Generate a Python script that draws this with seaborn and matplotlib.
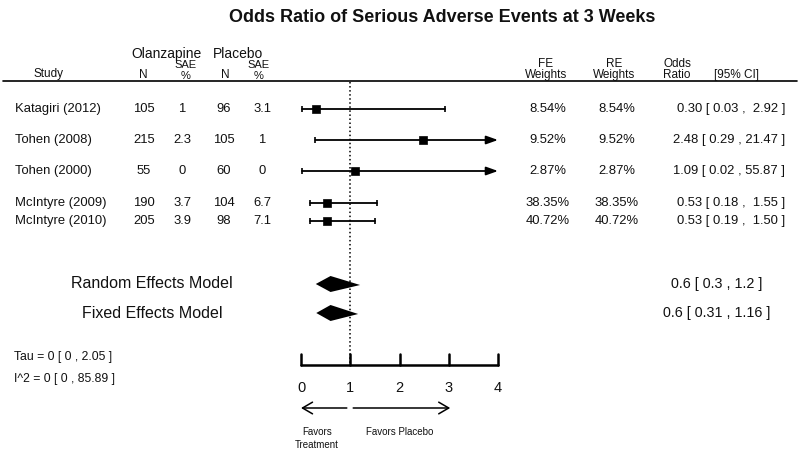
# %%

import numpy as np
import pandas as pd
import matplotlib.pyplot as plt
import matplotlib.transforms as mtransforms
import seaborn as sns

# %%

studies = ['Katagiri (2012)', 'Tohen (2008)', 'Tohen (2000)',
           'McIntyre (2009)', 'McIntyre (2010)']
olz_n = [105, 215, 55, 190, 205]
olz_sae = ['1', '2.3', '0', '3.7', '3.9']
plc_n = [96, 105, 60, 104, 98]
plc_sae = ['3.1', '1', '0', '6.7', '7.1']
fe_weights = [8.54, 9.52, 2.87, 38.35, 40.72]
re_weights = [8.54, 9.52, 2.87, 38.35, 40.72]
odds = [0.30, 2.48, 1.09, 0.53, 0.53]
ci_lo = [0.03, 0.29, 0.02, 0.18, 0.19]
ci_hi = [2.92, 21.47, 55.87, 1.55, 1.50]

models = ['Random Effects Model', 'Fixed Effects Model']
model_or = [0.6, 0.6]
model_lo = [0.3, 0.31]
model_hi = [1.2, 1.16]

tau = [0, 0, 2.05]
i2 = [0, 0, 85.89]
ticks = [0, 1, 2, 3, 4]

# %%

sns.set_theme(style='white')
plt.rcParams['font.family'] = ['Liberation Sans', 'DejaVu Sans']

W, H = 800, 454
x0_px, unit_px = 301, 49.25          # pixel of OR=0 and pixels per OR unit
row_y = [109, 140, 171, 203, 221]
model_y = [284, 313]
axis_y = 365
xmax = ticks[-1]

fig = plt.figure(figsize=(8, 4.54), dpi=100)
ax = fig.add_axes([0, 0, 1, 1])
ax.set_xlim(-x0_px / unit_px, (W - x0_px) / unit_px)
ax.set_ylim(H, 0)
ax.axis('off')

# pixel transform for table text
px = mtransforms.Affine2D().scale(1 / W, -1 / H).translate(0, 1) + fig.transFigure


def txt(x, y, s, size=9.4, ha='center', **kw):
    fig.text(x, y, s, transform=px, fontsize=size, ha=ha, va='center',
             color='#111111', **kw)


# %%  studies

df = pd.DataFrame({'study': studies, 'odds': odds, 'lo': ci_lo,
                   'hi': ci_hi, 'y': row_y})

for _, r in df.iterrows():
    if r['hi'] > xmax:
        ax.annotate('', xy=(xmax, r['y']), xytext=(r['lo'], r['y']),
                    arrowprops=dict(arrowstyle='-|>,head_length=0.7,head_width=0.25',
                                    mutation_scale=10, lw=1.3, color='black',
                                    shrinkA=0, shrinkB=0))
        ax.plot([r['lo']], [r['y']], marker='|', ms=5, mew=1.2, color='black')
    else:
        ax.plot([r['lo'], r['hi']], [r['y'], r['y']], color='black', lw=1.3,
                marker='|', ms=5, mew=1.2)

sns.scatterplot(data=df, x='odds', y='y', marker='s', s=36, color='black',
                edgecolor='black', legend=False, ax=ax, zorder=5)

# model diamonds
for est, lo, hi, y in zip(model_or, model_lo, model_hi, model_y):
    ax.fill([lo, est, hi, est], [y, y - 8, y + 1, y + 8], color='black', lw=0)

# reference line and axis
ax.plot([1, 1], [82, axis_y], ls=':', color='black', lw=1.1)
ax.plot([ticks[0], ticks[-1]], [axis_y, axis_y], color='black', lw=1.8)
for t in ticks:
    ax.plot([t, t], [axis_y, axis_y - 11], color='black', lw=1.8)
    ax.text(t, 388, str(t), ha='center', va='center', fontsize=10.5,
            color='#111111')

ax.annotate('', xy=(0, 408), xytext=(0.93, 408),
            arrowprops=dict(arrowstyle='->,head_length=0.6,head_width=0.35',
                            mutation_scale=12, lw=1.1, color='black',
                            shrinkA=0, shrinkB=0))
ax.annotate('', xy=(3.03, 408), xytext=(1.06, 408),
            arrowprops=dict(arrowstyle='->,head_length=0.6,head_width=0.35',
                            mutation_scale=12, lw=1.1, color='black',
                            shrinkA=0, shrinkB=0))
txt(317, 432, 'Favors', size=7)
txt(317, 445, 'Treatment', size=7)
txt(400, 432, 'Favors Placebo', size=7)

# %%  table text

fig.text(442, 17, 'Odds Ratio of Serious Adverse Events at 3 Weeks',
         transform=px, fontsize=13, fontweight='bold', ha='center',
         va='center', color='#111111')

txt(166, 54, 'Olanzapine', size=10)
txt(238, 54, 'Placebo', size=10)
txt(48, 74, 'Study', size=8.5)
txt(143, 75, 'N', size=8.5)
txt(186, 65, 'SAE', size=8)
txt(186, 76, '%', size=8)
txt(225, 75, 'N', size=8.5)
txt(259, 65, 'SAE', size=8)
txt(259, 76, '%', size=8)
txt(546, 64, 'FE', size=8.5)
txt(546, 75, 'Weights', size=8.5)
txt(614, 64, 'RE', size=8.5)
txt(614, 75, 'Weights', size=8.5)
txt(677, 64, 'Odds', size=8.5)
txt(677, 75, 'Ratio', size=8.5)
txt(736, 75, '[95% CI]', size=8.5)
ax.plot([-x0_px / unit_px + 3 / unit_px, (797 - x0_px) / unit_px], [81, 81],
        color='black', lw=1.2)

for i, y in enumerate(row_y):
    txt(15, y, studies[i], ha='left')
    txt(144, y, str(olz_n[i]))
    txt(182, y, olz_sae[i])
    txt(224, y, str(plc_n[i]))
    txt(262, y, plc_sae[i])
    txt(548, y, f'{fe_weights[i]:.2f}%')
    txt(617, y, f'{re_weights[i]:.2f}%')
    txt(785, y, f'{odds[i]:.2f} [ {ci_lo[i]:.2f} , {ci_hi[i]:5.2f} ]', ha='right')

for name, est, lo, hi, y in zip(models, model_or, model_lo, model_hi, model_y):
    txt(152, y, name, size=11.5)
    txt(717, y, f'{est:g} [ {lo:g} , {hi:g} ]', size=10.3)

txt(14, 357, f'Tau = {tau[0]:g} [ {tau[1]:g} , {tau[2]:g} ]', ha='left', size=8.8)
txt(14, 379, f'I^2 = {i2[0]:g} [ {i2[1]:g} , {i2[2]:g} ]', ha='left', size=8.8)

fig.savefig('out.png', dpi=100)
